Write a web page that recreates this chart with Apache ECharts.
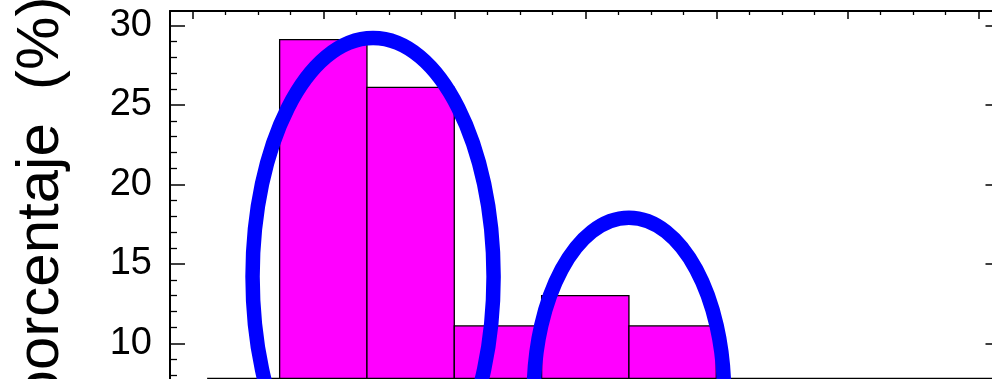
<!DOCTYPE html>
<html>
<head>
<meta charset="utf-8">
<script src="https://cdn.jsdelivr.net/npm/echarts@6/dist/echarts.min.js"></script>
<style>
html,body{margin:0;padding:0;background:#ffffff;}
#chart{width:992px;height:379px;}
</style>
</head>
<body>
<div id="chart"></div>
<script>
// ---- data ----
const binStarts   = [10, 20, 30, 40, 50];
const binEnds     = [20, 30, 40, 50, 60];
const percentages = [29.1, 26.1, 11.1, 13.0, 11.1];
const yTickValues = [0, 5, 10, 15, 20, 25, 30];
const yAxisName   = 'porcentaje  (%)';
// annotation ellipses (data units: centre x, centre y, radius x, radius y)
const ellipseCentreX = [20.7, 50.0];
const ellipseCentreY = [14.2, 6.8];
const ellipseRadiusX = [13.8, 10.9];
const ellipseRadiusY = [15.0, 11.1];
// reference line at the cropped bottom
const refLineY = [7.8, 7.8];
const refLineX = [1.7, 93.75];

const FONT = '"Liberation Sans", Arial, Helvetica, sans-serif';
const chart = echarts.init(document.getElementById('chart'), null, {renderer: 'canvas'});

const option = {
  animation: false,
  backgroundColor: '#ffffff',
  grid: [
    {left: 170, top: 11, width: 823.5, height: 491.5, outerBoundsMode: 'none', containLabel: false},
    {left: 192.3, top: 11, width: 818.7, height: 491.5, outerBoundsMode: 'none', containLabel: false}
  ],
  xAxis: [
    {gridIndex: 0, type: 'value', position: 'top', min: 0, max: 1,
     axisLine: {show: true, onZero: false, lineStyle: {color: '#000', width: 2}},
     axisTick: {show: false}, axisLabel: {show: false}, splitLine: {show: false}},
    {gridIndex: 1, type: 'value', position: 'top', min: 0, max: 93.75, interval: 15,
     axisLine: {show: true, onZero: false, lineStyle: {color: '#000', width: 2, opacity: 0}},
     axisTick: {show: true, inside: true, length: 8, lineStyle: {color: '#000', width: 1.5}},
     minorTick: {show: true, splitNumber: 4, length: 4, lineStyle: {color: '#000', width: 1.3}},
     axisLabel: {show: false}, splitLine: {show: false}, minorSplitLine: {show: false}}
  ],
  yAxis: [
    {gridIndex: 0, type: 'value', position: 'left', min: 0, max: 30.9, interval: 5,
     axisLine: {show: true, onZero: false, lineStyle: {color: '#000', width: 2}},
     axisTick: {show: true, inside: true, length: 15, lineStyle: {color: '#000', width: 1.5}},
     minorTick: {show: true, splitNumber: 5, length: 7, lineStyle: {color: '#000', width: 1.3}},
     axisLabel: {show: true, margin: 18, color: '#000', fontSize: 38, fontFamily: FONT,
       showMaxLabel: false,
       formatter: v => (yTickValues.indexOf(Math.round(v * 1000) / 1000) >= 0 ? String(v) : '')},
     splitLine: {show: false}},
    {gridIndex: 0, type: 'value', position: 'right', min: 0, max: 30.9, interval: 5,
     axisLine: {show: true, onZero: false, lineStyle: {color: '#000', width: 2}},
     axisTick: {show: true, inside: true, length: 8, lineStyle: {color: '#000', width: 1.5}},
     axisLabel: {show: false}, splitLine: {show: false}},
    {gridIndex: 1, type: 'value', show: false, min: 0, max: 30.9, splitLine: {show: false},
     axisLine: {onZero: false}}
  ],
  series: [
    {
      type: 'custom', name: 'bins', xAxisIndex: 1, yAxisIndex: 2,
      data: binStarts.map((s, i) => [s, binEnds[i], percentages[i]]),
      encode: {x: [0, 1], y: 2},
      renderItem: function (params, api) {
        const p0 = api.coord([api.value(0), api.value(2)]);
        const p1 = api.coord([api.value(1), 0]);
        return {
          type: 'rect',
          shape: {x: p0[0], y: p0[1], width: p1[0] - p0[0], height: p1[1] - p0[1]},
          style: {fill: '#ff00ff', stroke: '#000000', lineWidth: 1.3}
        };
      },
      z: 2
    },
    {
      type: 'line', name: 'ref', xAxisIndex: 1, yAxisIndex: 2,
      data: refLineX.map((x, i) => [x, refLineY[i]]),
      showSymbol: false, symbol: 'none',
      lineStyle: {color: '#000', width: 1.5},
      silent: true, z: 3
    },
    {
      type: 'custom', name: 'ellipses', xAxisIndex: 1, yAxisIndex: 2,
      data: ellipseCentreX.map((x, i) => [x, ellipseCentreY[i], ellipseRadiusX[i], ellipseRadiusY[i]]),
      encode: {x: 0, y: 1},
      renderItem: function (params, api) {
        const c = api.coord([api.value(0), api.value(1)]);
        const s = api.size([api.value(2), api.value(3)]);
        return {
          type: 'ellipse',
          shape: {cx: c[0], cy: c[1], rx: s[0], ry: s[1]},
          style: {fill: 'none', stroke: '#0000ff', lineWidth: 14.5}
        };
      },
      silent: true,
      z: 5
    }
  ],
  graphic: [
    {type: 'text', x: 41, y: 200, rotation: Math.PI / 2, z: 10,
     style: {text: yAxisName, font: '60px ' + FONT, fill: '#000',
             textAlign: 'center', textVerticalAlign: 'middle', verticalAlign: 'middle'}}
  ]
};
chart.setOption(option);
</script>
</body>
</html>
